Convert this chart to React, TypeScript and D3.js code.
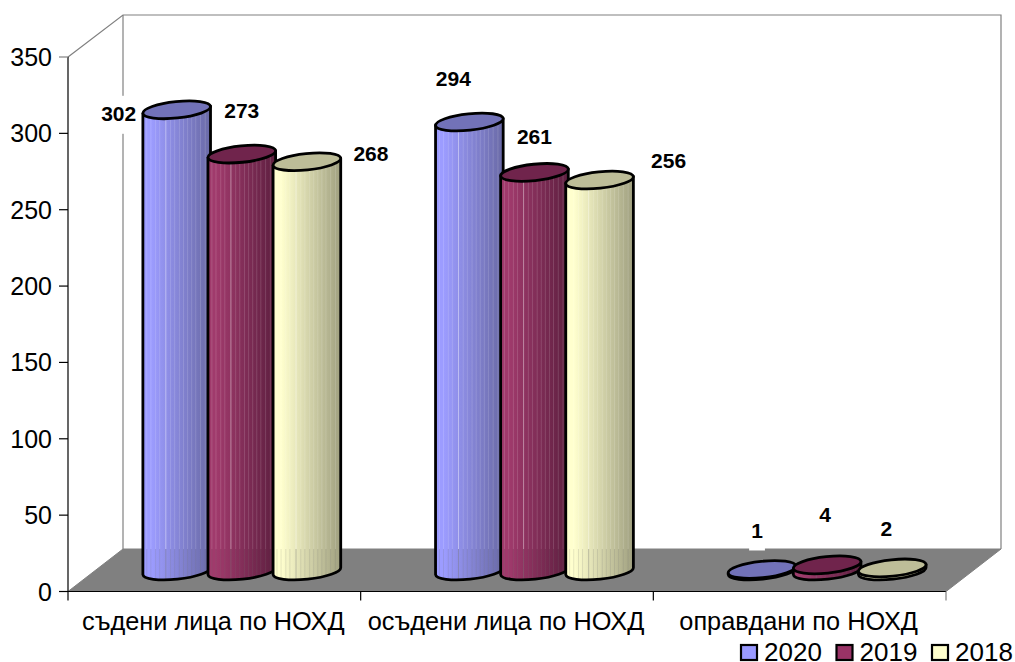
import React from "react";
import * as d3 from "d3";

const categories = ["съдени лица по НОХД", "осъдени лица по НОХД", "оправдани по НОХД"];
const seriesNames = ["2020", "2019", "2018"];
const values2020 = [302, 294, 1];
const values2019 = [273, 261, 4];
const values2018 = [268, 256, 2];
const seriesValues = [values2020, values2019, values2018];
const yTicks = [0, 50, 100, 150, 200, 250, 300, 350];

// appearance only
const lightColors = ["#9C9CFF", "#A03A6C", "#FFFFCE"];
const darkColors = ["#6A6AA6", "#5E1F40", "#A0A080"];
const capColors = ["#7272B8", "#70244C", "#BDBD98"];
const swatchColors = ["#9999FF", "#993366", "#FFFFCC"];
const labelOffsets = [
  [[-58, 4], [0, -44], [64, -8]],
  [[-16, -44], [0, -36], [69, -20]],
  [[-5, -39], [-2, -50], [-6, -40]],
];
const stripeFractions = [0.06, 0.12, 0.19, 0.25, 0.34, 0.41, 0.47, 0.54, 0.6, 0.66, 0.72, 0.78, 0.85, 0.92];

const W = 1015;
const H = 662;
const FONT = "'Liberation Sans', Arial, sans-serif";
const front = { left: 68, right: 946, bottom: 591.5, top: 57 };
const back = { left: 123, right: 1001, bottom: 549, top: 15 };

const y = d3.scaleLinear().domain([0, 350]).range([front.bottom, front.top]);
const x0 = d3.scaleBand().domain(categories).range([front.left, front.right]);
const x1 = d3.scaleBand().domain(seriesNames).range([76.15, 76.15 + 3 * 65.1]);

const baseLift = 20.5;
const rx = 34;
const ry = 8.2;
const tiltDeg = -6;
const dxE = rx * Math.cos((tiltDeg * Math.PI) / 180);
const dyE = rx * Math.sin((tiltDeg * Math.PI) / 180);

const ellipsePath = (cx: number, cy: number) =>
  `M${cx - dxE},${cy - dyE} A${rx},${ry} ${tiltDeg} 1 1 ${cx + dxE},${cy + dyE} A${rx},${ry} ${tiltDeg} 1 1 ${cx - dxE},${cy - dyE} Z`;

const bodyPath = (cx: number, top: number, base: number) =>
  `M${cx - dxE},${top - dyE} L${cx - dxE},${base - dyE} A${rx},${ry} ${tiltDeg} 0 0 ${cx + dxE},${base + dyE} L${cx + dxE},${top + dyE} Z`;

const Cylinder = ({ id, s, cx, value }: { id: string; s: number; cx: number; value: number }) => {
  const base = front.bottom - baseLift;
  const top = y(value) - baseLift;
  const d = bodyPath(cx, top, base);
  return (
    <g>
      <clipPath id={`clip-${id}`}>
        <path d={d} />
      </clipPath>
      <path d={d} fill={`url(#grad-${s})`} />
      <g clipPath={`url(#clip-${id})`}>
        {stripeFractions.map((f, i) => (
          <g key={i}>
            <line
              x1={cx - rx + f * 2 * rx}
              x2={cx - rx + f * 2 * rx}
              y1={top - 12}
              y2={back.bottom}
              stroke="#fff"
              strokeOpacity={i === 4 ? 0.42 : 0.14}
              strokeWidth={1}
            />
            <line
              x1={cx - rx + f * 2 * rx}
              x2={cx - rx + f * 2 * rx}
              y1={back.bottom}
              y2={base + 12}
              stroke="#777"
              strokeOpacity={i === 4 ? 0.4 : 0.18}
              strokeWidth={1}
            />
          </g>
        ))}
      </g>
      <path d={d} fill="none" stroke="#000" strokeWidth={2.8} strokeLinejoin="round" />
      <path d={ellipsePath(cx, top)} fill={capColors[s]} stroke="#000" strokeWidth={2.8} />
    </g>
  );
};

export default function App() {
  const gray = "#808080";
  return (
    <svg
      width={W}
      height={H}
      viewBox={`0 0 ${W} ${H}`}
      style={{ position: "absolute", left: 0, top: 0, display: "block", background: "#fff" }}
      fontFamily={FONT}
    >
      <defs>
        {seriesNames.map((_, s) => (
          <linearGradient key={s} id={`grad-${s}`} x1="0" x2="1" y1="0" y2="0">
            <stop offset="0" stopColor={lightColors[s]} />
            <stop offset="0.12" stopColor={lightColors[s]} />
            <stop offset="1" stopColor={darkColors[s]} />
          </linearGradient>
        ))}
      </defs>

      {/* walls */}
      <path
        d={`M${front.left},${front.top} L${back.left},${back.top} L${back.right},${back.top} L${back.right},${back.bottom}`}
        fill="none"
        stroke={gray}
        strokeWidth={1.2}
      />
      <line x1={back.left} x2={back.left} y1={back.top} y2={back.bottom} stroke={gray} strokeWidth={1.2} />

      {/* floor */}
      <polygon
        points={`${front.left},${front.bottom} ${back.left},${back.bottom} ${back.right},${back.bottom} ${front.right},${front.bottom}`}
        fill={gray}
        stroke={gray}
        strokeWidth={1}
      />

      {/* axes */}
      <line x1={front.left} x2={front.left} y1={front.top} y2={front.bottom + 9} stroke="#000" strokeWidth={1.2} />
      <line x1={front.left} x2={front.right} y1={front.bottom} y2={front.bottom} stroke="#000" strokeWidth={1.2} />
      {yTicks.map((t) => (
        <g key={t}>
          <line x1={front.left - 9} x2={front.left} y1={y(t)} y2={y(t)} stroke={t === 350 ? gray : "#000"} strokeWidth={1.2} />
          <text x={52} y={y(t)} dy="0.36em" textAnchor="end" fontSize={25} fill="#000">
            {t}
          </text>
        </g>
      ))}
      {categories.map((c, i) => {
        const xs = x0(c)!;
        const bw = x0.bandwidth();
        return (
          <g key={c}>
            <line x1={xs + bw} x2={xs + bw} y1={front.bottom} y2={front.bottom + 9} stroke={i === 2 ? gray : "#000"} strokeWidth={1.2} />
            <text x={xs + bw / 2 - 1} y={630} textAnchor="middle" fontSize={25.3} fill="#000">
              {c}
            </text>
          </g>
        );
      })}

      {/* bars */}
      {categories.map((c, ci) =>
        seriesNames.map((sn, s) => (
          <Cylinder
            key={`${ci}-${s}`}
            id={`${ci}-${s}`}
            s={s}
            cx={x0(c)! + x1(sn)! + x1.bandwidth() / 2}
            value={seriesValues[s][ci]}
          />
        ))
      )}

      {/* data labels */}
      {categories.map((c, ci) =>
        seriesNames.map((sn, s) => {
          const v = seriesValues[s][ci];
          const [dx, dy] = labelOffsets[ci][s];
          const lx = x0(c)! + x1(sn)! + x1.bandwidth() / 2 + dx;
          const ly = y(v) - baseLift + dy;
          const w = String(v).length * 11.8 + 4;
          return (
            <g key={`l-${ci}-${s}`}>
              <rect x={lx - w / 2} y={ly - 18} width={w} height={38} fill="#fff" />
              <text x={lx} y={ly} dy="0.36em" textAnchor="middle" fontSize={21} fontWeight="bold" fill="#000">
                {v}
              </text>
            </g>
          );
        })
      )}

      {/* legend */}
      {seriesNames.map((sn, s) => {
        const lx = 741 + s * 95.5;
        return (
          <g key={sn}>
            <rect x={lx} y={645} width={16} height={15} fill={swatchColors[s]} stroke="#000" strokeWidth={2.2} />
            <text x={lx + 23} y={660.5} fontSize={26} fill="#000">
              {sn}
            </text>
          </g>
        );
      })}
    </svg>
  );
}
